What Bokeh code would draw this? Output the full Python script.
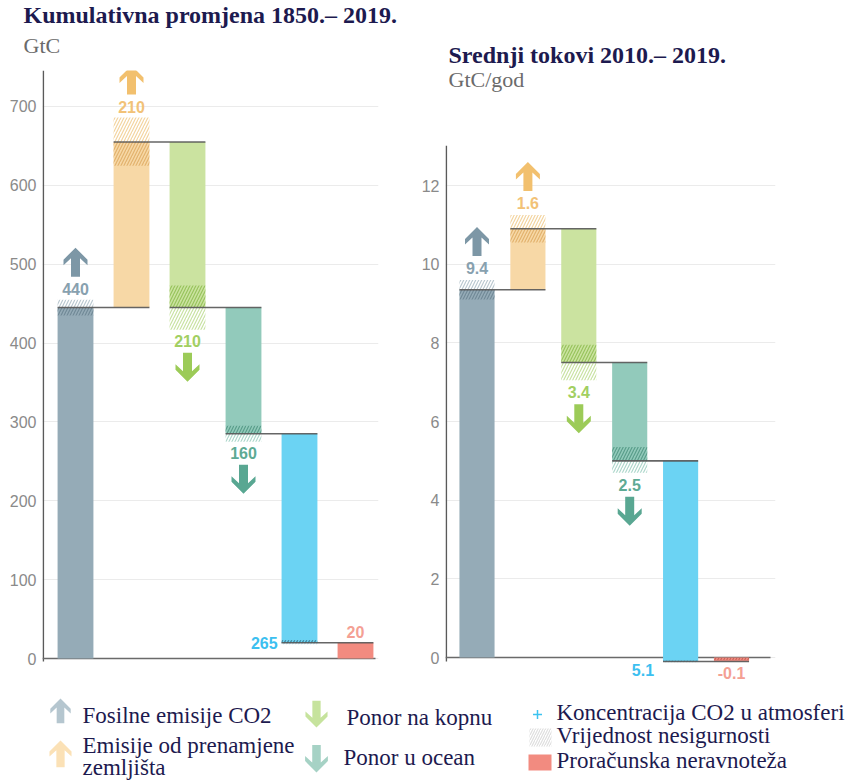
from bokeh.plotting import figure
from bokeh.models import Range1d, FixedTicker, Title
from bokeh.layouts import column, row
from bokeh.embed import file_html
from bokeh.resources import INLINE
from bokeh.core.properties import value

# ---------------- data ----------------
categories = ["Fosilne emisije CO2", "Emisije od prenamjene zemljišta", "Ponor na kopnu",
              "Ponor u ocean", "Koncentracija CO2 u atmosferi", "Proračunska neravnoteža"]

# cumulative change 1850-2019 (GtC), waterfall steps
cum_steps = [445, 210, -210, -160, -265, -20]
cum_labels = ["440", "210", "210", "160", "265", "20"]
cum_unc_lo = [435, 625, 417, 275, 18, 0]
cum_unc_hi = [455, 686, 473, 295, 23, 0]
cum_ticks = [0, 100, 200, 300, 400, 500, 600, 700]

# mean fluxes 2010-2019 (GtC/yr), waterfall steps
flow_steps = [9.35, 1.55, -3.4, -2.5, -5.1, 0.1]
flow_labels = ["9.4", "1.6", "3.4", "2.5", "5.1", "-0.1"]
flow_unc_lo = [9.1, 10.55, 7.05, 4.7, -0.12, -0.06]
flow_unc_hi = [9.6, 11.25, 7.95, 5.35, -0.08, -0.02]
flow_ticks = [0, 2, 4, 6, 8, 10, 12]

# ---------------- styles ----------------
bar_colors = ["#95abb7", "#f7d8a6", "#cbe3a0", "#92cabb", "#6bd3f3", "#f28b80"]
label_colors = ["#88a1af", "#f2c277", "#a2cf62", "#5eaa94", "#3cbff0", "#f4a094"]
arrow_colors = ["#7d97a6", "#f2c06e", "#9ccb58", "#59a792", None, None]
hatch_in = ["#647d8c", "#dba55a", "#86b845", "#468f79", "#2a5e70", "#a8443b"]
hatch_out = ["#b3c2cb", "#f2cf95", "#c2df98", "#a4d3c5", "#9fdcf2", "#f4b0a8"]
label_mode = ["up", "up", "down", "down", "side", "end"]

NAVY = "#1d1a4f"
SERIF = "Liberation Serif"
SANS = "Liberation Sans"

ARROW = [(0, 0), (12, 12), (12, 17.5), (4.5, 10.5), (4.5, 29), (-4.5, 29),
         (-4.5, 10.5), (-12, 17.5), (-12, 12)]

TOP_H = 690


def arrow_xy(cx, tip, up, kx, kdown, scale=1.0):
    xs = [cx + dx * scale * kx for dx, d in ARROW]
    if up:
        ys = [tip + d * scale * kdown for dx, d in ARROW]
    else:
        ys = [tip - d * scale * kdown for dx, d in ARROW]
    return xs, ys


def make_chart(steps, labels, lo, hi, ticks, title, unit, g):
    sx, sy = g["sx"], g["sy"]
    x0, y0 = g["x0"], g["y0"]          # page px of category 0 / value 0
    fl, fr, ft, fb = g["frame"]        # frame page box
    pw = lambda px: (px - x0) / sx     # page x -> data
    ph = lambda py: (y0 - py) / sy     # page y -> data

    p = figure(width=g["w"], height=TOP_H,
               x_range=Range1d(pw(fl), pw(fr)), y_range=Range1d(ph(fb), ph(ft)),
               x_axis_type=None, output_backend="svg", toolbar_location=None,
               min_border_left=fl - g["left"], min_border_right=g["left"] + g["w"] - fr,
               min_border_top=ft, min_border_bottom=TOP_H - fb, title=None,
               frame_align=False)
    p.outline_line_color = None
    p.background_fill_color = "white"
    p.border_fill_color = "white"
    ax = p.yaxis[0]
    ax.ticker = FixedTicker(ticks=ticks)
    ax.axis_line_color = None
    ax.major_tick_line_color = None
    ax.major_tick_out = 0
    ax.major_tick_in = 0
    ax.minor_tick_line_color = None
    ax.major_label_text_font = SANS
    ax.major_label_text_font_size = "16px"
    ax.major_label_text_color = "#8a8a8a"
    ax.major_label_standoff = 6
    p.ygrid.grid_line_color = "#ebebeb"
    p.ygrid.grid_line_width = 1.2

    # axis spine (drawn so it can stop above labels that sit under the baseline)
    sp_x = pw(fl + 0.8)
    p.segment(x0=[sp_x], y0=[ph(g["spine_bottom"])], x1=[sp_x], y1=[ph(ft)],
              line_color="#5a5a5a", line_width=1.6)

    n = len(steps)
    bw = g["bw"]
    starts, ends = [], []
    level = 0
    for s in steps:
        starts.append(level)
        level += s
        ends.append(level)
    bottoms = [min(a, b) for a, b in zip(starts, ends)]
    tops = [max(a, b) for a, b in zip(starts, ends)]
    xs = list(range(n))

    p.segment(x0=[pw(fl)], y0=[0], x1=[pw(g["base_end"])], y1=[0],
              line_color="#6a6a6a", line_width=1.6)

    p.quad(left=[x - bw / 2 for x in xs], right=[x + bw / 2 for x in xs],
           bottom=bottoms, top=tops, fill_color=bar_colors, line_color=None)

    # uncertainty hatches: inside bar (dark) and outside bar (light)
    il, ir, ib, it, ic = [], [], [], [], []
    ol, orr, ob, ot, oc = [], [], [], [], []
    for i in range(n):
        a, b = lo[i], hi[i]
        if b <= a:
            continue
        ia, ib_ = max(a, bottoms[i]), min(b, tops[i])
        if ib_ > ia:
            il.append(i - bw / 2); ir.append(i + bw / 2); ib.append(ia); it.append(ib_); ic.append(hatch_in[i])
        if a < bottoms[i]:
            ol.append(i - bw / 2); orr.append(i + bw / 2); ob.append(a); ot.append(min(b, bottoms[i])); oc.append(hatch_out[i])
        if b > tops[i]:
            ol.append(i - bw / 2); orr.append(i + bw / 2); ob.append(max(a, tops[i])); ot.append(b); oc.append(hatch_out[i])
    p.quad(left=il, right=ir, bottom=ib, top=it, fill_alpha=0, line_color=None,
           hatch_pattern="/", hatch_color=ic, hatch_scale=6, hatch_weight=1.2, hatch_alpha=0.75)
    p.quad(left=ol, right=orr, bottom=ob, top=ot, fill_alpha=0, line_color=None,
           hatch_pattern="/", hatch_color=oc, hatch_scale=6, hatch_weight=1.2, hatch_alpha=0.9)

    # connectors
    cx0 = [i - bw / 2 for i in range(n - 1)]
    cx1 = [i + 1 + bw / 2 for i in range(n - 1)]
    cy = ends[:-1]
    p.segment(x0=cx0, y0=cy, x1=cx1, y1=cy, line_color="#555555", line_width=1.6, line_alpha=0.9)

    # value labels and arrows
    tx, ty, tt, tc, ta = [], [], [], [], []
    axs, ays, acs = [], [], []
    for i in range(n):
        mode = label_mode[i]
        if mode == "up":
            ly = hi[i] + g["lab_off"] / sy
            tip = ly + 41 / sy
            a_x, a_y = arrow_xy(i, tip, True, 1 / sx, -1 / sy)
            axs.append(a_x); ays.append(a_y); acs.append(arrow_colors[i])
            tx.append(i); ty.append(ly); ta.append("center")
        elif mode == "down":
            ly = lo[i] - g["lab_off"] / sy
            tip = ly - 41 / sy
            a_x, a_y = arrow_xy(i, tip, False, 1 / sx, -1 / sy)
            axs.append(a_x); ays.append(a_y); acs.append(arrow_colors[i])
            tx.append(i); ty.append(ly); ta.append("center")
        elif mode == "side":
            tx.append(i - bw / 2 - g["side_dx"] / sx); ty.append(bottoms[i] - g["side_dy"] / sy); ta.append("right")
        else:
            if tops[i] > 1e-9:
                ty.append(tops[i] + 11 / sy)
            else:
                ty.append(bottoms[i] - 12 / sy)
            tx.append(i); ta.append("center")
        tt.append(labels[i]); tc.append(label_colors[i])
    p.patches(xs=axs, ys=ays, fill_color=acs, line_color=None)
    p.text(x=tx, y=ty, text=tt, text_color=tc, text_align=ta, text_baseline="middle",
           text_font=value(SANS), text_font_style="bold", text_font_size="16px")

    # titles (first added sits closest to the frame)
    p.add_layout(Title(text=unit, text_font=SERIF, text_font_size="22px", text_color="#6b6b6b",
                       text_font_style="normal", align="left", offset=g["title_x"] - fl,
                       standoff=g["unit_so"]), "above")
    p.add_layout(Title(text=title, text_font=SERIF, text_font_style="bold", text_font_size="24px",
                       text_color=NAVY, align="left", offset=g["title_x"] - fl,
                       standoff=g["title_so"]), "above")
    return p


left_geo = dict(w=400, left=0, frame=(42, 378, 70, 662), x0=75, sx=56, y0=658, sy=0.7886,
                bw=0.64, lab_off=11, side_dx=4, side_dy=0, title_x=23, unit_so=26, title_so=-20,
                spine_bottom=661, base_end=375)
right_geo = dict(w=446, left=400, frame=(445, 775, 145, 684), x0=476.5, sx=50.9, y0=657, sy=39.33,
                 bw=0.69, lab_off=12, side_dx=9, side_dy=9, title_x=448, unit_so=107, title_so=-112,
                 spine_bottom=661, base_end=770)

p1 = make_chart(cum_steps, cum_labels, cum_unc_lo, cum_unc_hi, cum_ticks,
                "Kumulativna promjena 1850.– 2019.", "GtC", left_geo)
p2 = make_chart(flow_steps, flow_labels, flow_unc_lo, flow_unc_hi, flow_ticks,
                "Srednji tokovi 2010.– 2019.", "GtC/god", right_geo)

# ---------------- legend (page pixel coordinates) ----------------
lg = figure(width=846, height=780 - TOP_H, x_range=Range1d(0, 846), y_range=Range1d(780, TOP_H),
            x_axis_type=None, y_axis_type=None, output_backend="svg", toolbar_location=None,
            min_border=0, title=None, frame_align=False)
lg.outline_line_color = None
lg.grid.visible = False

leg_arrow_colors = ["#b5c6cf", "#fbe1b6", "#c6e39d", "#a6d2c5"]
ax1, ay1 = arrow_xy(60, 698, True, 1, 1, 0.85)
ax2, ay2 = arrow_xy(60, 740, True, 1, 1, 0.92)
ax3, ay3 = arrow_xy(316, 727, False, 1, 1, 0.92)
ax4, ay4 = arrow_xy(316, 772, False, 1, 1, 0.95)
lg.patches(xs=[ax1, ax2, ax3, ax4], ys=[ay1, ay2, ay3, ay4], fill_color=leg_arrow_colors, line_color=None)

lg.scatter(x=[537], y=[714], marker="cross", size=9, line_color="#3cc3f0", line_width=1.5)
lg.quad(left=[529], right=[551], top=[728], bottom=[746], fill_alpha=0, line_color=None,
        hatch_pattern="/", hatch_color="#dedede", hatch_scale=5, hatch_weight=1.2)
lg.quad(left=[528], right=[551], top=[754], bottom=[770], fill_color=bar_colors[5], line_color=None)

leg_x = [82, 82, 82, 346, 343, 556, 556, 556]
leg_y = [715, 745, 767, 717, 757, 712, 735, 760]
leg_text = ["Fosilne emisije CO2", "Emisije od prenamjene", "zemljišta", "Ponor na kopnu",
            "Ponor u ocean", "Koncentracija CO2 u atmosferi", "Vrijednost nesigurnosti",
            "Proračunska neravnoteža"]
lg.text(x=leg_x, y=leg_y, text=leg_text, text_color=NAVY, text_align="left",
        text_baseline="alphabetic", text_font=value(SERIF), text_font_size="23px")

layout = column(row(p1, p2, spacing=0), lg, spacing=0)
open("out.html", "w").write(file_html(layout, INLINE))
